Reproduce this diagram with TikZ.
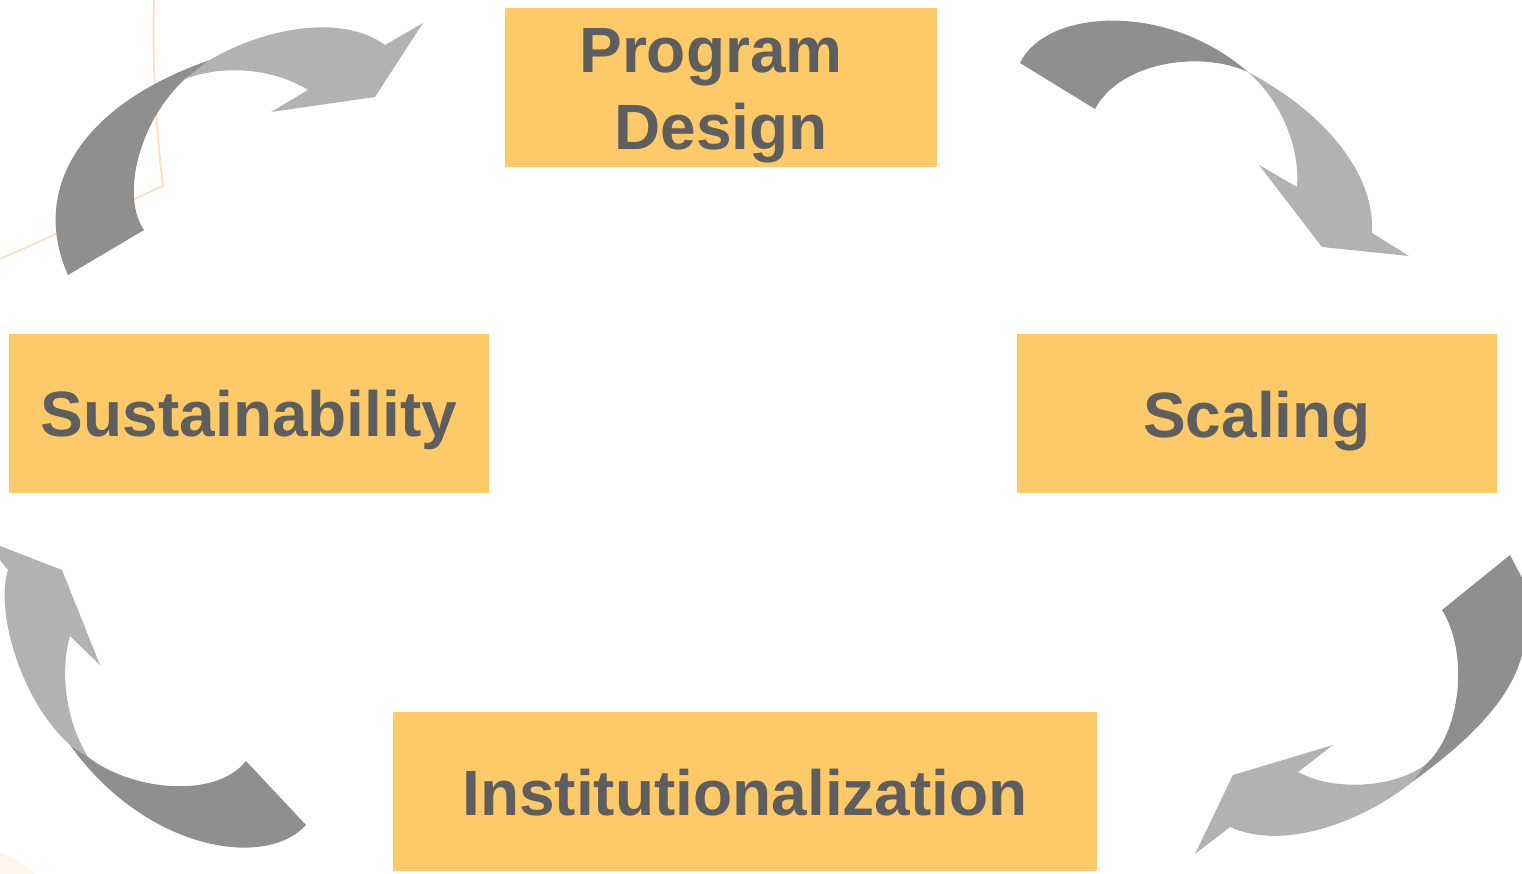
\documentclass[tikz,border=0pt]{standalone}
\usepackage{fontspec}
\setmainfont{Liberation Sans}
\definecolor{boxfill}{HTML}{FECA69}
\definecolor{txt}{HTML}{5E5E5E}
\definecolor{darkarr}{HTML}{8F8F8F}
\definecolor{lightarr}{HTML}{B2B2B2}
\definecolor{peach}{HTML}{FDDFC3}
\tikzset{
  stage/.style={fill=boxfill, draw=none, inner sep=0pt, minimum height=159pt},
  stagetext/.style={text=txt, font=\fontsize{64}{77}\selectfont\bfseries, align=center, inner sep=0pt, anchor=base},
  darkpart/.style={fill=darkarr, draw=none},
  lightpart/.style={fill=lightarr, draw=none},
}
\begin{document}
\begin{tikzpicture}[x=1pt,y=-1pt]
\useasboundingbox (0,0) rectangle (1522,874);
\fill[white] (0,0) rectangle (1522,874);
% faint background lines
\draw[peach, line width=1.8pt] (154,0) .. controls (152,60) and (156,130) .. (163,186) -- (0,259);
\fill[peach!30] (0,852) .. controls (15,858) and (28,866) .. (36,874) -- (0,874) -- cycle;

% boxes
\node[stage, minimum width=432pt] (pd) at (721,87.5) {};
\node[stage, minimum width=480pt] (sus) at (249,413.5) {};
\node[stage, minimum width=480pt] (sc) at (1257,413.5) {};
\node[stage, minimum width=704pt] (inst) at (745,791.5) {};
\node[stagetext] (pdt) at (721,150) {Program\hspace*{20pt}\\Design};
\node[stagetext] (sust) at (249,436) {Sustainability};
\node[stagetext] (sct) at (1257,437) {Scaling};
\node[stagetext] (instt) at (745,815) {Institutionalization};

% arrow 1 (top-left)
\fill[darkpart] (68,275) -- (144,230)
  .. controls (120,195) and (140,120) .. (185,79)
  -- (210,60)
  .. controls (80,105) and (30,190) .. (68,275) -- cycle;
\fill[lightpart] (185,79) -- (210,60)
  .. controls (260,30) and (340,12) .. (385,45)
  -- (423,23) -- (375,97) -- (271,112) -- (308,90)
  .. controls (280,72) and (230,62) .. (185,79) -- cycle;

% arrow 2 (top-right)
\fill[darkpart] (1020,63)
  .. controls (1045,10) and (1165,0) .. (1248,72)
  .. controls (1200,50) and (1120,62) .. (1095,109) -- cycle;
\fill[lightpart] (1248,72)
  .. controls (1320,110) and (1375,170) .. (1372,233)
  -- (1409,256) -- (1322,247) -- (1259,165) -- (1297,187)
  .. controls (1300,145) and (1280,100) .. (1248,72) -- cycle;

% arrow 3 (bottom-left)
\fill[darkpart] (306,825)
  .. controls (265,870) and (145,850) .. (70,745)
  -- (88,757)
  .. controls (130,790) and (215,800) .. (246,761) -- cycle;
\fill[lightpart] (70,745)
  .. controls (20,700) and (-5,610) .. (8,570)
  -- (0,560) -- (0,546) -- (62,570) -- (100,665) -- (70,636)
  .. controls (60,670) and (65,720) .. (88,757) -- cycle;

% arrow 4 (bottom-right)
\fill[darkpart] (1442,610) -- (1510,555) -- (1522,578) -- (1522,655)
  .. controls (1510,700) and (1470,740) .. (1412,782)
  -- (1425,765)
  .. controls (1460,735) and (1470,655) .. (1442,610) -- cycle;
\fill[lightpart] (1412,782)
  .. controls (1365,820) and (1285,852) .. (1230,827)
  -- (1195,854) -- (1233,775) -- (1333,745) -- (1298,772)
  .. controls (1330,790) and (1390,790) .. (1425,765) -- cycle;
\end{tikzpicture}
\end{document}
